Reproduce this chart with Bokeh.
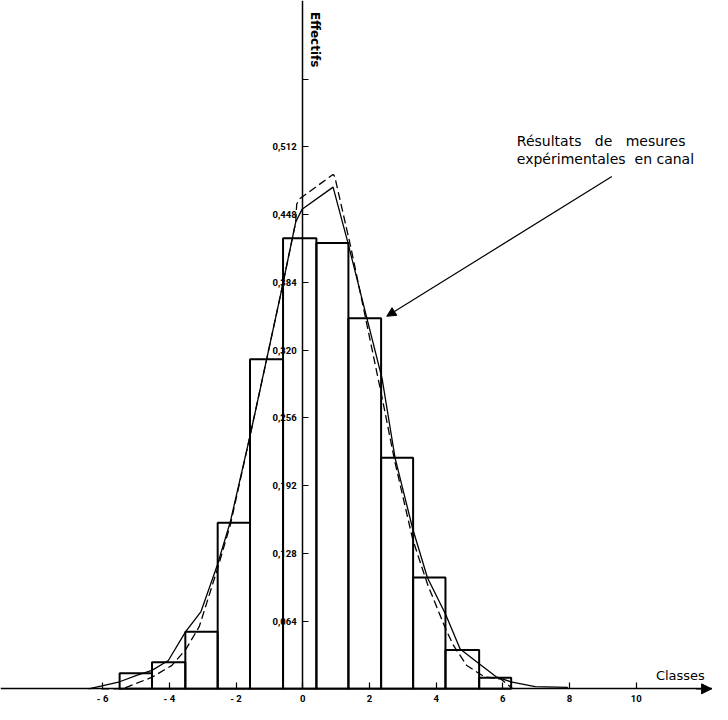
import math
from bokeh.plotting import figure
from bokeh.models import Range1d, FixedTicker, Label, Arrow, NormalHead, ColumnDataSource
from bokeh.embed import file_html
from bokeh.resources import INLINE

# ---- data -------------------------------------------------------------
class_edges = [-5.49, -4.52, -3.52, -2.55, -1.58, -0.59, 0.41, 1.37, 2.35, 3.31, 4.28, 5.29, 6.25]
frequencies = [0.0148, 0.0252, 0.0539, 0.157, 0.3113, 0.4258, 0.4212, 0.3501, 0.2183, 0.1053, 0.0367, 0.0104]

solid_x = [-6.42, -5.49, -4.96, -4.52, -4.03, -3.51, -3.05, -2.56, -2.17, -1.58, -1.29, -0.645,
           -0.21, -0.02, 0.91, 1.35, 2.38, 2.77, 3.30, 3.74, 4.28, 4.72, 5.29, 5.80, 6.24, 6.97, 7.95]
solid_y = [0.0, 0.0067, 0.0129, 0.0175, 0.0268, 0.054, 0.073, 0.117, 0.158, 0.239, 0.281, 0.375,
           0.441, 0.453, 0.474, 0.422, 0.293, 0.218, 0.151, 0.105, 0.0707, 0.0376, 0.0237, 0.0114,
           0.0067, 0.0021, 0.0014]

dashed_x = [-6.04, -5.40, -4.52, -3.93, -3.51, -3.10, -2.56, -2.17, -1.58, -1.29, -0.645, -0.21,
            -0.18, -0.09, 0.91, 0.96, 1.45, 2.38, 2.76, 3.30, 3.74, 4.28, 4.52, 4.92, 5.29, 5.45,
            5.94, 6.30]
dashed_y = [0.0, 0.0, 0.011, 0.022, 0.037, 0.059, 0.113, 0.155, 0.239, 0.281, 0.375, 0.441,
            0.458, 0.463, 0.486, 0.484, 0.416, 0.275, 0.215, 0.141, 0.099, 0.057, 0.041, 0.022,
            0.0145, 0.0114, 0.0092, 0.0]

x_ticks = [-6, -4, -2, 0, 2, 4, 6, 8, 10]
x_tick_labels = ["- 6", "- 4", "- 2", "0", "2", "4", "6", "8", "10"]
y_ticks = [0.064, 0.128, 0.192, 0.256, 0.320, 0.384, 0.448, 0.512, 0.576]
y_tick_labels = ["0,064", "0,128", "0,192", "0,256", "0,320", "0,384", "0,448", "0,512", ""]

NB = "\u00a0"

# ---- figure ------------------------------------------------------------
p = figure(width=712, height=704, title=None,
           x_range=Range1d(-9.062, 12.287), y_range=Range1d(-0.01478, 0.6503),
           output_backend="svg", toolbar_location=None, min_border=0,
           outline_line_color=None, background_fill_color="white")
p.grid.visible = False

bars = ColumnDataSource(dict(left=class_edges[:-1], right=class_edges[1:], top=frequencies,
                             bottom=[0] * len(frequencies)))
p.quad(left="left", right="right", top="top", bottom="bottom", source=bars,
       fill_color=None, line_color="black", line_width=2)

p.line(solid_x, solid_y, line_color="black", line_width=1.3)
p.line(dashed_x, dashed_y, line_color="black", line_width=1.3, line_dash="8 4")

# axes crossing at the origin
for ax in (p.xaxis[0], p.yaxis[0]):
    ax.fixed_location = 0
    ax.axis_line_color = "black"
    ax.axis_line_width = 1.5
    ax.major_tick_line_color = "black"
    ax.major_tick_line_width = 1.2
    ax.major_tick_in = 6
    ax.major_tick_out = 0
    ax.minor_tick_in = 0
    ax.minor_tick_out = 0
    ax.major_label_text_font = "Roboto"
    ax.major_label_text_font_style = "bold"
    ax.major_label_text_font_size = "9.5px"
    ax.major_label_text_color = "black"

p.xaxis.ticker = FixedTicker(ticks=x_ticks)
p.xaxis.major_label_overrides = {t: l for t, l in zip(x_ticks, x_tick_labels)}
p.xaxis.major_label_standoff = 4

p.yaxis.ticker = FixedTicker(ticks=y_ticks)
p.yaxis.major_label_overrides = {t: l for t, l in zip(y_ticks, y_tick_labels)}
p.yaxis.major_label_standoff = 6
p.yaxis.bounds = (0, 0.6503)

# arrow head of the x axis
p.add_layout(Arrow(end=NormalHead(size=10, fill_color="black", line_color="black"),
                   x_start=11.8, y_start=0, x_end=12.26, y_end=0,
                   line_color="black", line_width=1.5))

p.add_layout(Label(x=10.59, y=0.0129, text="Classes", text_font="DejaVu Sans",
                   text_font_size="13px", text_baseline="middle", text_color="black"))
p.add_layout(Label(x=0.38, y=0.6133, text="Effectifs", angle=-math.pi / 2,
                   text_align="center", text_baseline="middle", text_font="DejaVu Sans",
                   text_font_style="bold", text_font_size="12px", text_color="black"))

p.add_layout(Label(x=6.42, y=0.518, text="Résultats" + NB * 3 + "de" + NB * 3 + "mesures",
                   text_font="DejaVu Sans", text_font_size="14px", text_baseline="middle",
                   text_color="black"))
p.add_layout(Label(x=6.42, y=0.5006, text="expérimentales" + NB * 2 + "en" + NB + "canal",
                   text_font="DejaVu Sans", text_font_size="14px", text_baseline="middle",
                   text_color="black"))

p.add_layout(Arrow(end=NormalHead(size=9, fill_color="black", line_color="black"),
                   x_start=9.27, y_start=0.484, x_end=2.52, y_end=0.352,
                   line_color="black", line_width=1.2))

open("out.html", "w").write(file_html(p, INLINE))
